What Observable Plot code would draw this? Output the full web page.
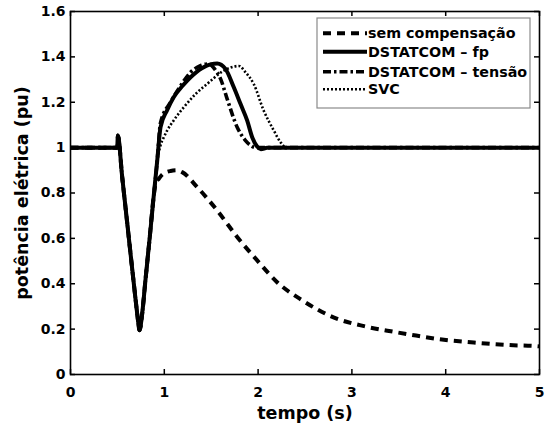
<!DOCTYPE html>
<html>
<head>
<meta charset="utf-8">
<script src="https://cdn.jsdelivr.net/npm/d3@7"></script>
<script src="https://cdn.jsdelivr.net/npm/@observablehq/plot@0.6"></script>
<style>
  html, body { margin: 0; padding: 0; background: #fff; }
  #chart { position: relative; width: 547px; height: 427px; }
  #chart svg { font-family: "DejaVu Sans", sans-serif; font-weight: bold; }
</style>
</head>
<body>
<div id="chart"></div>
<script>
// ---- data ----
const seriesNames = ["sem compensação", "DSTATCOM – fp", "DSTATCOM – tensão", "SVC"];

// common pre-fault / dip portion shared by all curves
const tCommon = [0, 0.50, 0.505, 0.55, 0.60, 0.65, 0.69, 0.715, 0.736, 0.764, 0.80, 0.846, 0.888];
const yCommon = [1.0, 1.0, 1.053, 0.875, 0.685, 0.495, 0.345, 0.255, 0.195, 0.268, 0.42, 0.61, 0.79];

// sem compensação (dashed)
const tSem = [0.91, 0.94, 0.98, 1.066, 1.13, 1.19, 1.35, 1.564, 1.777, 1.99, 2.2, 2.47, 2.81, 3.13, 3.45, 3.62, 3.96, 4.30, 4.66, 4.975, 5.0];
const ySem = [0.845, 0.862, 0.882, 0.897, 0.90, 0.892, 0.826, 0.723, 0.606, 0.503, 0.408, 0.327, 0.251, 0.213, 0.188, 0.176, 0.154, 0.141, 0.130, 0.125, 0.124];

// DSTATCOM – fp (solid)
const tFp = [0.924, 0.96, 1.03, 1.10, 1.20, 1.28, 1.40, 1.50, 1.564, 1.652, 1.741, 1.812, 1.884, 1.937, 1.99, 2.03, 2.097, 5.0];
const yFp = [0.94, 1.09, 1.165, 1.222, 1.275, 1.31, 1.35, 1.368, 1.371, 1.347, 1.266, 1.193, 1.119, 1.046, 1.005, 0.993, 0.999, 1.0];

// DSTATCOM – tensão (dash-dot)
const tTen = [0.924, 0.96, 1.066, 1.17, 1.28, 1.38, 1.475, 1.53, 1.60, 1.67, 1.777, 1.866, 1.92, 1.97, 5.0];
const yTen = [0.94, 1.11, 1.20, 1.27, 1.332, 1.36, 1.369, 1.35, 1.303, 1.215, 1.09, 1.031, 1.01, 1.0, 1.0];

// SVC (dotted)
const tSvc = [0.924, 0.96, 0.995, 1.03, 1.10, 1.208, 1.33, 1.457, 1.634, 1.70, 1.795, 1.87, 1.954, 2.06, 2.168, 2.239, 2.30, 5.0];
const ySvc = [0.94, 1.01, 1.046, 1.075, 1.12, 1.178, 1.235, 1.281, 1.339, 1.352, 1.36, 1.33, 1.28, 1.163, 1.075, 1.024, 1.0, 1.0];

const xTicks = [0, 1, 2, 3, 4, 5];
const yTicks = [0, 0.2, 0.4, 0.6, 0.8, 1, 1.2, 1.4, 1.6];
const xTickLabels = ["0", "1", "2", "3", "4", "5"];
const yTickLabels = ["0", "0.2", "0.4", "0.6", "0.8", "1", "1.2", "1.4", "1.6"];

const styles = [
  {strokeWidth: 4, strokeDasharray: "8,6"},
  {strokeWidth: 4, strokeDasharray: null},
  {strokeWidth: 3.6, strokeDasharray: "8,3,2.5,3"},
  {strokeWidth: 2.6, strokeDasharray: "2,2"}
];

function build(ts, ys, name) {
  const pts = tCommon.map((t, i) => ({t, y: yCommon[i], s: name}));
  ts.forEach((t, i) => pts.push({t, y: ys[i], s: name}));
  return pts;
}
const data = [
  build(tSem, ySem, seriesNames[0]),
  build(tFp, yFp, seriesNames[1]),
  build(tTen, yTen, seriesNames[2]),
  build(tSvc, ySvc, seriesNames[3])
];

const W = 547, H = 427, mL = 70, mR = 8, mT = 11, mB = 53;
const plotH = H - mT - mB, plotW = W - mL - mR, tickLen = 5;

const marks = [];
// draw order: SVC, tensão, sem, fp
[3, 2, 0, 1].forEach(k => {
  marks.push(Plot.line(data[k], {x: "t", y: "y", stroke: "black", curve: "monotone-x",
    strokeWidth: styles[k].strokeWidth, strokeDasharray: styles[k].strokeDasharray,
    strokeLinejoin: "round", strokeLinecap: "butt"}));
});

const plot = Plot.plot({
  width: W,
  height: H,
  marginLeft: mL,
  marginRight: mR,
  marginTop: mT,
  marginBottom: mB,
  x: {domain: [0, 5]},
  y: {domain: [0, 1.6]},
  marks: [
    ...marks,
    // inward ticks on all four sides
    Plot.tickX(xTicks, {x: d => d, insetTop: plotH - tickLen, stroke: "black", strokeWidth: 1.5}),
    Plot.tickX(xTicks, {x: d => d, insetBottom: plotH - tickLen, stroke: "black", strokeWidth: 1.5}),
    Plot.tickY(yTicks, {y: d => d, insetRight: plotW - tickLen, stroke: "black", strokeWidth: 1.5}),
    Plot.tickY(yTicks, {y: d => d, insetLeft: plotW - tickLen, stroke: "black", strokeWidth: 1.5}),
    Plot.frame({stroke: "black", strokeWidth: 1.6}),
    Plot.axisX(xTicks, {anchor: "bottom", tickSize: 0, tickPadding: 13, tickFormat: (d) => xTickLabels[xTicks.indexOf(d)],
      label: "tempo (s)", labelAnchor: "center", labelOffset: 44, labelArrow: "none"}),
    Plot.axisY(yTicks, {anchor: "left", tickSize: 0, tickPadding: 5, tickFormat: (d) => yTickLabels[yTicks.indexOf(d)],
      label: "potência elétrica (pu)", labelAnchor: "center", labelOffset: 55, labelArrow: "none"})
  ]
});

document.getElementById("chart").appendChild(plot);

const svg = d3.select(plot);
svg.selectAll('g[aria-label="x-axis tick label"] text, g[aria-label="y-axis tick label"] text')
  .style("font-size", "14px").style("font-family", "'DejaVu Sans', sans-serif").style("font-weight", "bold");
svg.selectAll('g[aria-label="x-axis label"] text, g[aria-label="y-axis label"] text')
  .style("font-size", "17.5px").style("font-family", "'DejaVu Sans', sans-serif").style("font-weight", "bold");

// legend (overlay inside plot area, top-right)
const lg = svg.append("g").attr("class", "legend").attr("transform", "translate(317,18)");
lg.append("rect").attr("width", 213).attr("height", 90)
  .attr("fill", "white").attr("stroke", "#8a8a8a").attr("stroke-width", 1.2);
const rowY = [15.3, 33.7, 53.7, 71.3];
seriesNames.forEach((name, k) => {
  lg.append("line").attr("x1", 6).attr("x2", 50).attr("y1", rowY[k]).attr("y2", rowY[k])
    .attr("stroke", "black").attr("stroke-width", styles[k].strokeWidth)
    .attr("stroke-dasharray", styles[k].strokeDasharray);
  lg.append("text").attr("x", 51).attr("y", rowY[k]).attr("dy", "0.36em")
    .attr("text-anchor", "start")
    .style("font-size", "14.3px").style("font-family", "'DejaVu Sans', sans-serif")
    .style("font-weight", "bold").attr("fill", "black").text(name);
});
</script>
</body>
</html>
